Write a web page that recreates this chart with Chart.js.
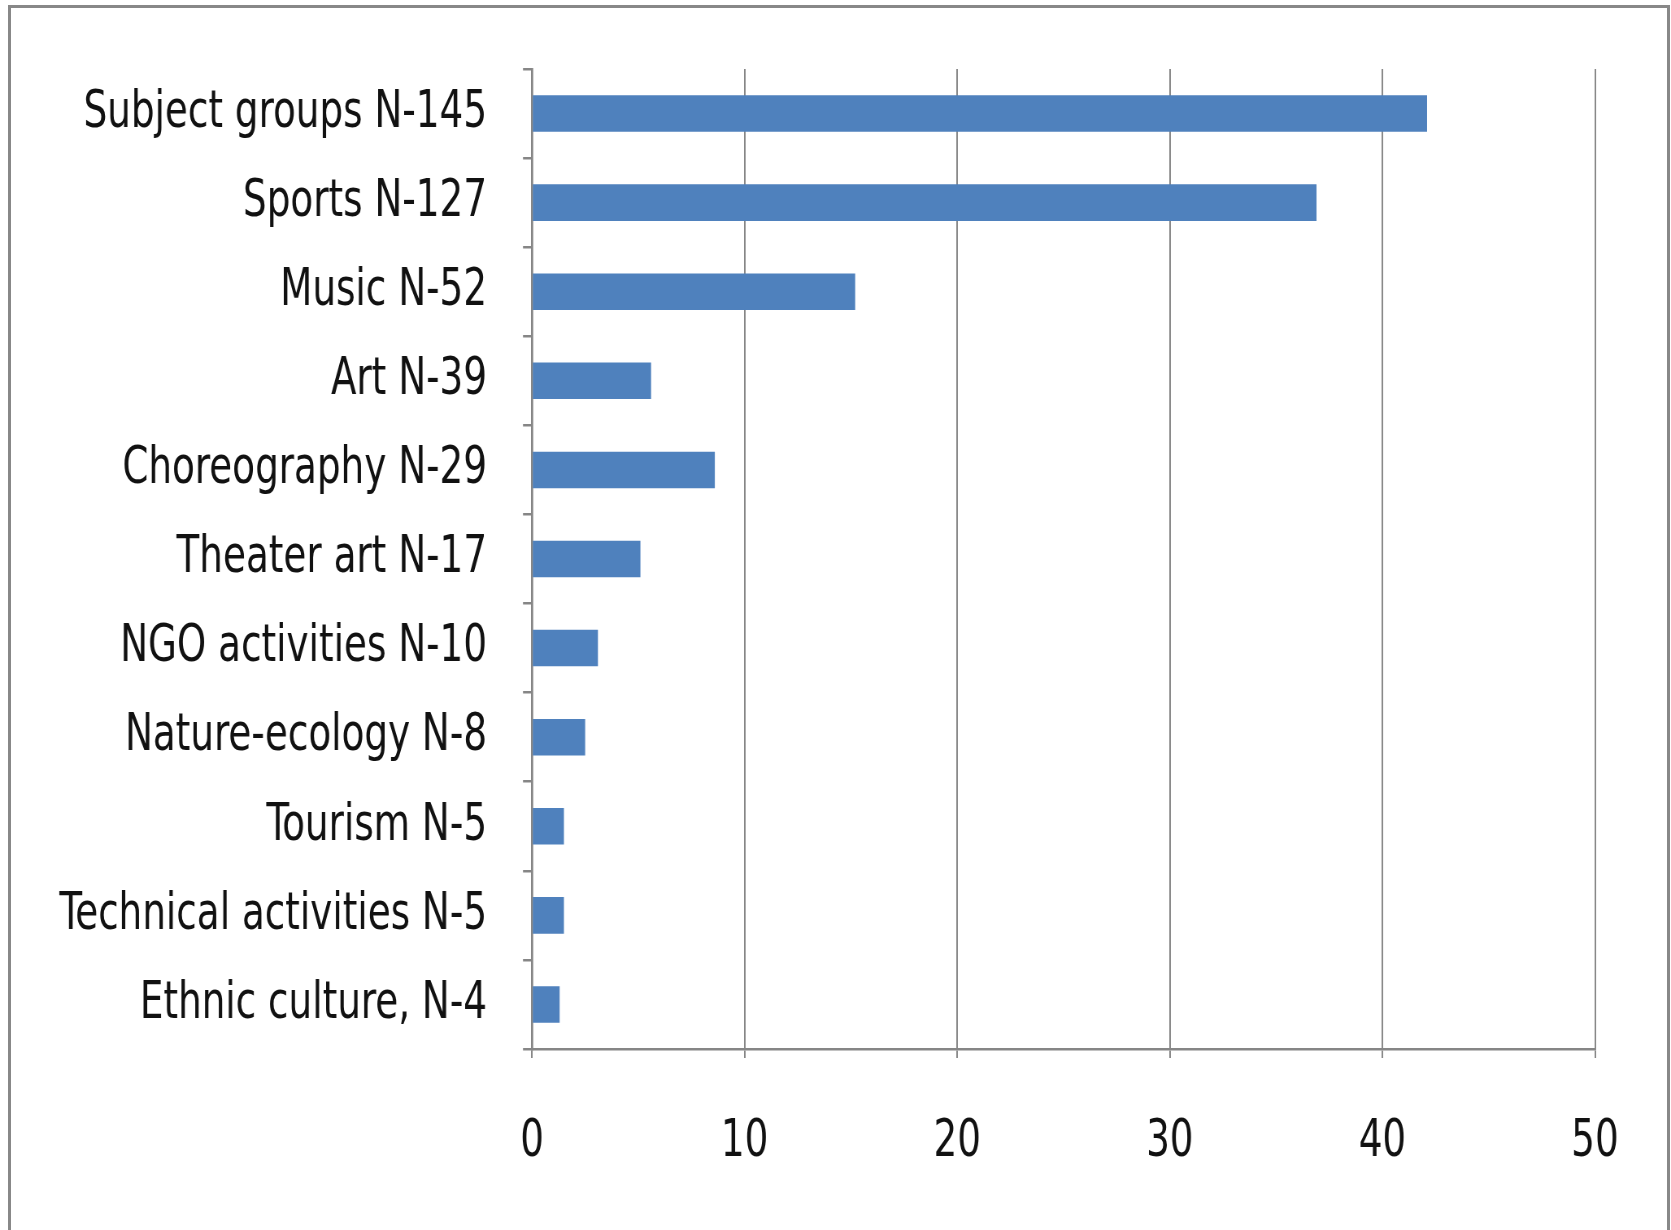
<!DOCTYPE html>
<html>
<head>
<meta charset="utf-8">
<script src="https://cdn.jsdelivr.net/npm/chart.js@4"></script>
<style>
  html, body { margin: 0; padding: 0; background: #fff; }
  #wrap { position: relative; width: 1671px; height: 1230px; overflow: hidden; }
  #frame { position: absolute; left: 8px; top: 5px; width: 1662px; height: 1300px; border: 3px solid #888; box-sizing: border-box; }
  canvas { position: absolute; left: 0; top: 0; }
</style>
</head>
<body>
<div id="wrap">
  <div id="frame"></div>
  <canvas id="c" width="2055" height="1230" style="width:1671px;height:1230px;"></canvas>
</div>
<script>
const categories = [
  "Subject groups N-145",
  "Sports N-127",
  "Music N-52",
  "Art N-39",
  "Choreography N-29",
  "Theater art N-17",
  "NGO activities N-10",
  "Nature-ecology N-8",
  "Tourism N-5",
  "Technical activities N-5",
  "Ethnic culture, N-4"
];
const values = [42.1, 36.9, 15.2, 5.6, 8.6, 5.1, 3.1, 2.5, 1.5, 1.5, 1.3];
const xTicks = [0, 10, 20, 30, 40, 50];

// The canvas is drawn wider and shown compressed horizontally, giving condensed text like the original.
const K = 2055 / 1671;
const FONT = '"DejaVu Sans Condensed", "DejaVu Sans", sans-serif';

new Chart(document.getElementById('c'), {
  type: 'bar',
  data: {
    labels: categories,
    datasets: [{
      data: values,
      backgroundColor: '#4F81BD',
      borderWidth: 0,
      categoryPercentage: 1.0,
      barPercentage: 0.41
    }]
  },
  options: {
    indexAxis: 'y',
    responsive: false,
    devicePixelRatio: 1,
    animation: false,
    events: [],
    layout: { padding: { top: 69, right: 76 * K, left: 0, bottom: 0 } },
    plugins: { legend: { display: false }, tooltip: { enabled: false } },
    scales: {
      x: {
        min: xTicks[0],
        max: xTicks[xTicks.length - 1],
        afterBuildTicks: (s) => { s.ticks = xTicks.map(v => ({ value: v })); },
        afterFit: (s) => { s.height = 181; s.paddingLeft = 0; s.paddingRight = 0; },
        grid: { color: '#868686', lineWidth: 1.6 * K, tickLength: 9, drawTicks: true },
        border: { color: '#868686', width: 2.5 },
        ticks: { color: '#111', font: { family: FONT, size: 51 }, padding: 54, maxRotation: 0 }
      },
      y: {
        afterFit: (s) => { s.width = 532 * K; s.paddingTop = 0; s.paddingBottom = 0; },
        grid: { display: true, drawOnChartArea: false, offset: true, color: '#868686', lineWidth: 2.5, tickLength: 9 * K },
        border: { color: '#868686', width: 2.2 * K },
        ticks: { color: '#111', font: { family: FONT, size: 51 }, padding: 36 * K, crossAlign: 'near' }
      }
    }
  }
});
</script>
</body>
</html>
